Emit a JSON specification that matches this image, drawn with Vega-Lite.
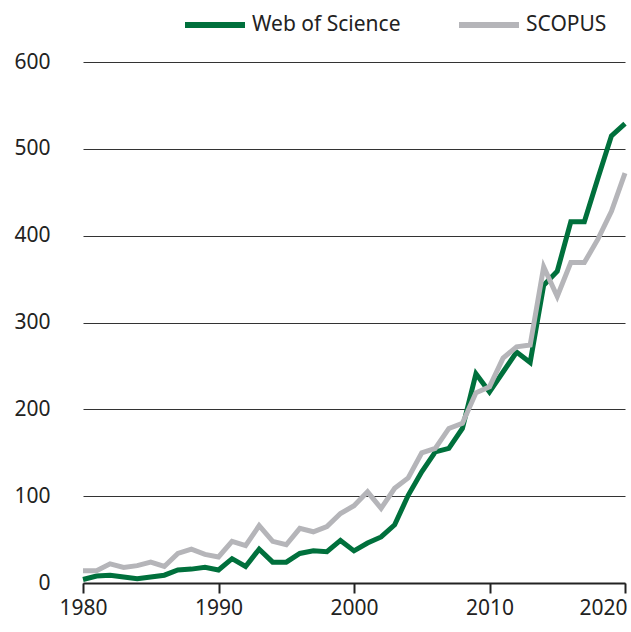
{
  "$schema": "https://vega.github.io/schema/vega-lite/v6.json",
  "width": 542,
  "height": 521,
  "autosize": {"type": "none"},
  "padding": {"left": 83, "top": 62, "right": 6, "bottom": 49},
  "background": "white",
  "config": {
    "view": {"stroke": null},
    "font": "Noto Sans",
    "axis": {"labelFont": "Noto Sans", "labelColor": "#222222"},
    "legend": {"labelFont": "Noto Sans"}
  },
  "data": {
    "values": [
      {"year": 1980, "Web of Science": 4, "SCOPUS": 14},
      {"year": 1981, "Web of Science": 8, "SCOPUS": 14},
      {"year": 1982, "Web of Science": 9, "SCOPUS": 22},
      {"year": 1983, "Web of Science": 7, "SCOPUS": 18},
      {"year": 1984, "Web of Science": 5, "SCOPUS": 20},
      {"year": 1985, "Web of Science": 7, "SCOPUS": 24},
      {"year": 1986, "Web of Science": 9, "SCOPUS": 19},
      {"year": 1987, "Web of Science": 15, "SCOPUS": 34},
      {"year": 1988, "Web of Science": 16, "SCOPUS": 39},
      {"year": 1989, "Web of Science": 18, "SCOPUS": 33},
      {"year": 1990, "Web of Science": 15, "SCOPUS": 30},
      {"year": 1991, "Web of Science": 28, "SCOPUS": 48},
      {"year": 1992, "Web of Science": 19, "SCOPUS": 43},
      {"year": 1993, "Web of Science": 39, "SCOPUS": 66},
      {"year": 1994, "Web of Science": 24, "SCOPUS": 48},
      {"year": 1995, "Web of Science": 24, "SCOPUS": 44},
      {"year": 1996, "Web of Science": 34, "SCOPUS": 63},
      {"year": 1997, "Web of Science": 37, "SCOPUS": 59},
      {"year": 1998, "Web of Science": 36, "SCOPUS": 65},
      {"year": 1999, "Web of Science": 49, "SCOPUS": 80},
      {"year": 2000, "Web of Science": 37, "SCOPUS": 89},
      {"year": 2001, "Web of Science": 46, "SCOPUS": 105},
      {"year": 2002, "Web of Science": 53, "SCOPUS": 86},
      {"year": 2003, "Web of Science": 67, "SCOPUS": 109},
      {"year": 2004, "Web of Science": 101, "SCOPUS": 121},
      {"year": 2005, "Web of Science": 128, "SCOPUS": 150},
      {"year": 2006, "Web of Science": 151, "SCOPUS": 155},
      {"year": 2007, "Web of Science": 155, "SCOPUS": 178},
      {"year": 2008, "Web of Science": 178, "SCOPUS": 184},
      {"year": 2009, "Web of Science": 241, "SCOPUS": 219},
      {"year": 2010, "Web of Science": 220, "SCOPUS": 226},
      {"year": 2011, "Web of Science": 243, "SCOPUS": 259},
      {"year": 2012, "Web of Science": 266, "SCOPUS": 272},
      {"year": 2013, "Web of Science": 254, "SCOPUS": 274},
      {"year": 2014, "Web of Science": 343, "SCOPUS": 364},
      {"year": 2015, "Web of Science": 359, "SCOPUS": 330},
      {"year": 2016, "Web of Science": 416, "SCOPUS": 369},
      {"year": 2017, "Web of Science": 416, "SCOPUS": 369},
      {"year": 2018, "Web of Science": 466, "SCOPUS": 396},
      {"year": 2019, "Web of Science": 515, "SCOPUS": 428},
      {"year": 2020, "Web of Science": 529, "SCOPUS": 472}
    ]
  },
  "transform": [
    {"fold": ["Web of Science", "SCOPUS"], "as": ["source", "count"]}
  ],
  "mark": {"type": "line", "strokeWidth": 5, "strokeJoin": "miter"},
  "encoding": {
    "x": {
      "field": "year",
      "type": "quantitative",
      "scale": {"domain": [1980, 2020], "nice": false, "zero": false},
      "axis": {
        "title": null,
        "values": [1980, 1990, 2000, 2010, 2020],
        "format": "d",
        "grid": false,
        "domainColor": "#222222",
        "domainWidth": 2,
        "tickColor": "#222222",
        "tickWidth": 2,
        "tickSize": 10,
        "labelFontSize": 21,
        "labelPadding": 4,
        "labelFlush": false,
        "labelAlign": {"expr": "datum.value == 2020 ? 'right' : 'center'"},
        "labelOffset": {"expr": "datum.value == 2020 ? 2 : 0"}
      }
    },
    "y": {
      "field": "count",
      "type": "quantitative",
      "scale": {"domain": [0, 600], "nice": false},
      "axis": {
        "title": null,
        "values": [0, 100, 200, 300, 400, 500, 600],
        "domain": false,
        "ticks": false,
        "grid": true,
        "gridColor": "#333333",
        "gridWidth": 1.2,
        "labelFontSize": 21,
        "labelPadding": 33
      }
    },
    "color": {
      "field": "source",
      "type": "nominal",
      "sort": ["Web of Science", "SCOPUS"],
      "scale": {"domain": ["Web of Science", "SCOPUS"], "range": ["#00703c", "#b5b5b9"]},
      "legend": {
        "title": null,
        "orient": "none",
        "direction": "horizontal",
        "legendX": 99,
        "legendY": -70,
        "symbolType": "stroke",
        "symbolSize": 3600,
        "symbolStrokeWidth": 6,
        "labelFontSize": 21,
        "labelColor": "#222222",
        "labelOffset": 4,
        "columnPadding": 46
      }
    }
  }
}
